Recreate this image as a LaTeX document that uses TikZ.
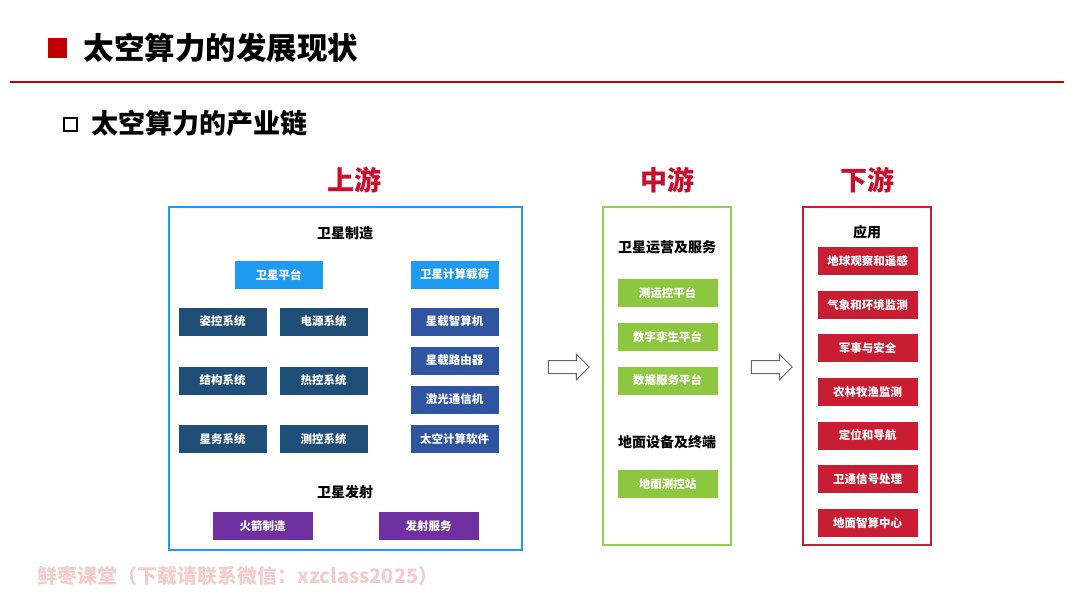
\documentclass[tikz,border=0pt]{standalone}
\usepackage{fontspec}
\setmainfont{Noto Sans CJK SC}
\usetikzlibrary{shapes.arrows}

\definecolor{titlered}{HTML}{C00000}
\definecolor{headred}{HTML}{C8102E}
\definecolor{skyblue}{HTML}{1E9AF0}
\definecolor{navyblue}{HTML}{1F4E79}
\definecolor{midblue}{HTML}{2F54A0}
\definecolor{launchpurple}{HTML}{7030A0}
\definecolor{leafgreen}{HTML}{8DC63F}
\definecolor{linegreen}{HTML}{92D050}
\definecolor{apppred}{HTML}{C81D33}
\definecolor{markpink}{HTML}{F4CCCC}

\tikzset{
  cell/.style={minimum width=89pt, minimum height=29pt, inner sep=0pt,
    text=white, font=\fontsize{11.5}{12}\selectfont\bfseries, draw=white, line width=0.6pt},
  widecell/.style={cell, minimum width=101pt},
  heading/.style={font=\fontsize{14}{15}\selectfont\bfseries},
  stream/.style={text=headred, font=\fontsize{27}{28}\selectfont\bfseries},
  frame/.style={line width=2pt},
  blockarrow/.style={single arrow, draw=gray!80!black, fill=white, line width=1pt,
    minimum height=41pt, minimum width=25pt, inner sep=6pt, single arrow head extend=6.5pt}
}

\begin{document}
\begin{tikzpicture}[x=1pt, y=-1pt]
  \useasboundingbox (0,0) rectangle (1080,608);

  % Page title
  \fill[titlered] (48,38) rectangle (67,58);
  \node[anchor=west, font=\fontsize{30.5}{32}\selectfont\bfseries] (title) at (80,48) {太空算力的发展现状};
  \draw[titlered, line width=2pt] (10,82) -- (1064,82);
  \draw[line width=2.5pt] (64,118) rectangle (77,131);
  \node[anchor=west, font=\fontsize{27}{28}\selectfont\bfseries] (sub) at (88,123) {太空算力的产业链};

  % Stream headings
  \node[stream] (up) at (354,180) {上游};
  \node[stream] (mid) at (667,180) {中游};
  \node[stream] (down) at (867,180) {下游};

  % Frames
  \draw[frame, skyblue] (169,207) rectangle (522,550);
  \draw[frame, linegreen] (603,207) rectangle (731,545);
  \draw[frame, apppred] (803,207) rectangle (931,545);

  % Upstream
  \node[heading] (make) at (345,233) {卫星制造};
  \node[cell, fill=skyblue] (bus) at (278.5,274.5) {卫星平台};
  \node[cell, fill=skyblue] (load) at (454.5,274.5) {卫星计算载荷};
  \node[cell, fill=navyblue] (adcs) at (222.5,321.5) {姿控系统};
  \node[cell, fill=navyblue] (power) at (323.5,321.5) {电源系统};
  \node[cell, fill=navyblue] (frameSys) at (222.5,380.5) {结构系统};
  \node[cell, fill=navyblue] (thermal) at (323.5,380.5) {热控系统};
  \node[cell, fill=navyblue] (obdh) at (222.5,439) {星务系统};
  \node[cell, fill=navyblue] (ttc) at (323.5,439) {测控系统};
  \node[cell, fill=midblue] (cpu) at (454.5,321.5) {星载智算机};
  \node[cell, fill=midblue] (router) at (454.5,360.5) {星载路由器};
  \node[cell, fill=midblue] (laser) at (454.5,399.5) {激光通信机};
  \node[cell, fill=midblue] (soft) at (454.5,439) {太空计算软件};
  \node[heading] (launch) at (345,492) {卫星发射};
  \node[widecell, fill=launchpurple] (rocket) at (262.5,526) {火箭制造};
  \node[widecell, fill=launchpurple] (service) at (428.5,526) {发射服务};

  % Midstream
  \node[heading] (ops) at (667,247) {卫星运营及服务};
  \node[widecell, fill=leafgreen] (tt) at (667.5,293) {测运控平台};
  \node[widecell, fill=leafgreen] (twin) at (667.5,337) {数字孪生平台};
  \node[widecell, fill=leafgreen] (data) at (667.5,380.5) {数据服务平台};
  \node[heading] (ground) at (667,442) {地面设备及终端};
  \node[widecell, fill=leafgreen] (station) at (667.5,484) {地面测控站};

  % Downstream
  \node[heading] (use) at (867,232) {应用};
  \foreach \name/\txt [count=\i from 0] in {eo/地球观察和遥感, met/气象和环境监测, mil/军事与安全,
      agri/农林牧渔监测, nav/定位和导航, sig/卫通信号处理, dc/地面智算中心}
    \node[widecell, fill=apppred] (\name) at (867.5,261+43.6*\i) {\txt};

  % Arrows between streams
  \node[blockarrow] (a1) at (565.5,367) {};
  \node[blockarrow] (a2) at (768.5,367) {};

  % Watermark
  \node[anchor=west, text=markpink, font=\fontsize{20}{22}\selectfont\bfseries] (mark) at (34,576)
    {鲜枣课堂（下载请联系微信：xzclass2025）};
\end{tikzpicture}
\end{document}
